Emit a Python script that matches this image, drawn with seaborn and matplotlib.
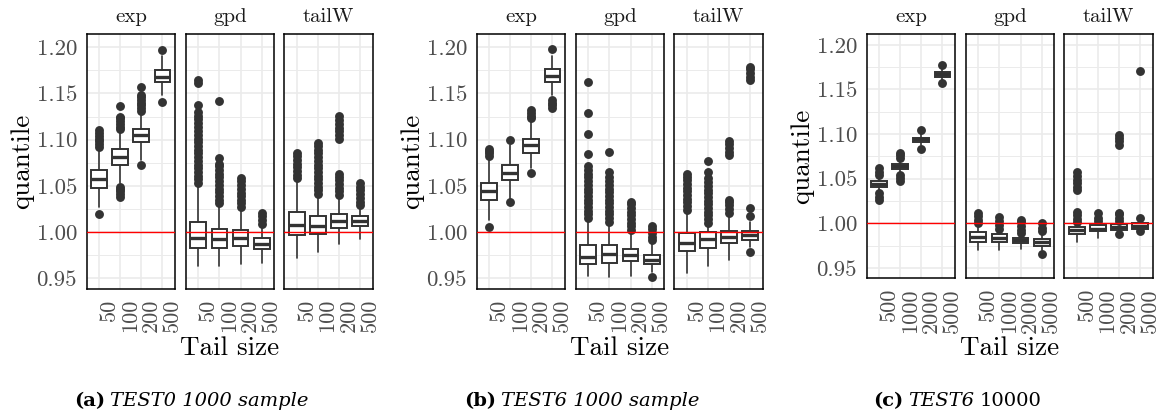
import matplotlib
matplotlib.use("Agg")
import matplotlib.pyplot as plt
import pandas as pd
import seaborn as sns

# ---------------------------------------------------------------- data
facets = ["exp", "gpd", "tailW"]
tail_sizes_small = ["50", "100", "200", "500"]
tail_sizes_large = ["500", "1000", "2000", "5000"]
y_ticks = [0.95, 1.00, 1.05, 1.10, 1.15, 1.20]
y_minor = [0.975, 1.025, 1.075, 1.125, 1.175]
reference_level = 1.0

# box summaries per tail size: (lower whisker, Q1, median, Q3, upper whisker)
test0_boxes = {
    "exp":   [(1.027, 1.048, 1.057, 1.067, 1.090), (1.053, 1.072, 1.081, 1.090, 1.110),
              (1.078, 1.097, 1.105, 1.112, 1.130), (1.148, 1.162, 1.168, 1.175, 1.190)],
    "gpd":   [(0.963, 0.983, 0.994, 1.011, 1.052), (0.963, 0.983, 0.992, 1.003, 1.029),
              (0.965, 0.985, 0.993, 1.002, 1.027), (0.966, 0.982, 0.987, 0.994, 1.008)],
    "tailW": [(0.972, 0.997, 1.008, 1.022, 1.056), (0.978, 0.998, 1.006, 1.017, 1.040),
              (0.987, 1.004, 1.012, 1.020, 1.040), (0.992, 1.006, 1.012, 1.017, 1.029)],
}
test0_outliers = {
    "exp":   [[1.019, 1.092, 1.095, 1.098, 1.101, 1.104, 1.107, 1.110],
              [1.038, 1.041, 1.044, 1.047, 1.049, 1.111, 1.114, 1.117, 1.120, 1.123, 1.125, 1.136],
              [1.073, 1.131, 1.134, 1.137, 1.140, 1.143, 1.146, 1.148, 1.157],
              [1.141, 1.197]],
    "gpd":   [[1.053, 1.057, 1.061, 1.065, 1.069, 1.073, 1.077, 1.081, 1.085, 1.089, 1.093,
               1.097, 1.101, 1.105, 1.109, 1.114, 1.118, 1.122, 1.126, 1.130, 1.138, 1.161, 1.164],
              [1.031, 1.035, 1.039, 1.043, 1.047, 1.051, 1.055, 1.059, 1.063, 1.067, 1.071,
               1.074, 1.080, 1.142],
              [1.027, 1.031, 1.035, 1.039, 1.042, 1.047, 1.051, 1.055, 1.058],
              [1.009, 1.013, 1.017, 1.021]],
    "tailW": [[1.058, 1.062, 1.066, 1.070, 1.074, 1.078, 1.082, 1.085],
              [1.041, 1.045, 1.049, 1.053, 1.057, 1.061, 1.065, 1.069, 1.073, 1.077, 1.081,
               1.085, 1.089, 1.093, 1.096],
              [1.040, 1.044, 1.048, 1.052, 1.056, 1.060, 1.063, 1.101, 1.105, 1.109, 1.113,
               1.117, 1.121, 1.126],
              [1.029, 1.033, 1.037, 1.041, 1.045, 1.049, 1.053]],
}

test6_boxes = {
    "exp":   [(1.013, 1.035, 1.044, 1.053, 1.081), (1.036, 1.056, 1.064, 1.072, 1.094),
              (1.069, 1.086, 1.094, 1.101, 1.121), (1.148, 1.162, 1.169, 1.176, 1.190)],
    "gpd":   [(0.952, 0.965, 0.973, 0.986, 1.015), (0.951, 0.967, 0.976, 0.986, 1.011),
              (0.952, 0.969, 0.975, 0.982, 1.002), (0.957, 0.965, 0.970, 0.975, 0.988)],
    "tailW": [(0.956, 0.979, 0.988, 0.999, 1.024), (0.963, 0.983, 0.992, 1.000, 1.009),
              (0.970, 0.988, 0.995, 1.001, 1.020), (0.984, 0.991, 0.997, 1.001, 1.011)],
}
test6_outliers = {
    "exp":   [[1.005, 1.082, 1.085, 1.088, 1.090],
              [1.032, 1.100],
              [1.064, 1.123, 1.126, 1.129, 1.132],
              [1.134, 1.137, 1.140, 1.143, 1.198]],
    "gpd":   [[1.015, 1.019, 1.023, 1.027, 1.031, 1.035, 1.039, 1.043, 1.047, 1.051, 1.055,
               1.059, 1.063, 1.067, 1.071, 1.084, 1.106, 1.129, 1.162],
              [1.011, 1.015, 1.019, 1.023, 1.027, 1.031, 1.035, 1.039, 1.043, 1.047, 1.051,
               1.055, 1.060, 1.065, 1.087],
              [1.002, 1.006, 1.010, 1.014, 1.018, 1.022, 1.026, 1.030, 1.033],
              [0.951, 0.991, 0.995, 0.999, 1.003, 1.006]],
    "tailW": [[1.024, 1.028, 1.032, 1.036, 1.040, 1.044, 1.048, 1.052, 1.056, 1.060, 1.063],
              [1.010, 1.014, 1.018, 1.022, 1.026, 1.030, 1.034, 1.038, 1.042, 1.046, 1.050,
               1.054, 1.058, 1.065, 1.077],
              [1.021, 1.025, 1.029, 1.032, 1.035, 1.083, 1.087, 1.091, 1.095, 1.098],
              [0.978, 1.017, 1.026, 1.164, 1.168, 1.172, 1.176, 1.179]],
}

test6_10k_boxes = {
    "exp":   [(1.036, 1.041, 1.044, 1.047, 1.052), (1.056, 1.061, 1.064, 1.067, 1.071),
              (1.088, 1.091, 1.094, 1.096, 1.100), (1.161, 1.164, 1.167, 1.170, 1.174)],
    "gpd":   [(0.970, 0.979, 0.985, 0.990, 0.998), (0.970, 0.979, 0.984, 0.988, 0.994),
              (0.971, 0.978, 0.981, 0.984, 0.989), (0.970, 0.975, 0.979, 0.982, 0.989)],
    "tailW": [(0.979, 0.988, 0.992, 0.996, 1.000), (0.984, 0.991, 0.994, 0.998, 1.000),
              (0.991, 0.993, 0.996, 0.999, 1.001), (0.993, 0.994, 0.997, 1.000, 1.002)],
}
test6_10k_outliers = {
    "exp":   [[1.026, 1.030, 1.034, 1.054, 1.058, 1.062],
              [1.047, 1.051, 1.054, 1.073, 1.076, 1.079],
              [1.083, 1.105],
              [1.157, 1.178]],
    "gpd":   [[1.000, 1.004, 1.008, 1.012],
              [0.994, 0.998, 1.002, 1.007],
              [0.989, 0.993, 0.997, 1.001, 1.004],
              [0.966, 0.991, 0.995, 1.000]],
    "tailW": [[1.001, 1.005, 1.009, 1.013, 1.037, 1.041, 1.045, 1.049, 1.053, 1.057],
              [1.002, 1.006, 1.011],
              [0.988, 1.002, 1.006, 1.010, 1.012, 1.088, 1.092, 1.096, 1.099],
              [0.991, 1.006, 1.171]],
}

# ---------------------------------------------------------------- style
sns.set_theme(style="whitegrid")
plt.rcParams["font.family"] = ["cmr10", "DejaVu Serif"]
plt.rcParams["axes.formatter.use_mathtext"] = True

DARK = "#333333"
GRID = "#EBEBEB"
TICK_GRAY = "#4D4D4D"
W, H = 1163, 416

fig = plt.figure(figsize=(W / 100, H / 100), dpi=100)
fig.patch.set_facecolor("white")


def px_axes(left, top, right, bottom):
    return fig.add_axes([left / W, 1 - bottom / H, (right - left) / W, (bottom - top) / H])


def draw_facet(ax, labels, boxes, outliers, ylim, show_y):
    pts = pd.DataFrame({
        "tail": [labels[i] for i, vals in enumerate(outliers) for _ in vals],
        "quantile": [v for vals in outliers for v in vals],
    })
    sns.stripplot(data=pts, x="tail", y="quantile", order=labels, jitter=False,
                  color=DARK, size=6.4, linewidth=0, ax=ax, zorder=3)
    stats = [dict(whislo=b[0], q1=b[1], med=b[2], q3=b[3], whishi=b[4]) for b in boxes]
    ax.bxp(stats, positions=range(len(labels)), widths=0.75, patch_artist=True,
           showcaps=False, showfliers=False, manage_ticks=False, zorder=2,
           boxprops=dict(facecolor="white", edgecolor=DARK, linewidth=1.4),
           medianprops=dict(color=DARK, linewidth=2.4, solid_capstyle="butt"),
           whiskerprops=dict(color=DARK, linewidth=1.2))
    ax.axhline(reference_level, color="red", lw=1.0, zorder=4)

    ax.set_xlim(-0.6, len(labels) - 0.4)
    ax.set_ylim(*ylim)
    ax.set_xticks(range(len(labels)))
    ax.set_xticklabels(labels, rotation=90, ha="left", fontsize=16, color=TICK_GRAY)
    ax.set_yticks(y_ticks)
    ax.set_yticks(y_minor, minor=True)
    if show_y:
        ax.set_yticklabels([f"{t:.2f}" for t in y_ticks], fontsize=16.5, color=TICK_GRAY)
    else:
        ax.tick_params(labelleft=False)
    ax.tick_params(which="both", length=0)
    ax.tick_params(axis="y", pad=7)
    ax.tick_params(axis="x", pad=7)
    ax.set_axisbelow(True)
    ax.grid(which="major", axis="both", color=GRID, lw=1.2)
    ax.grid(which="minor", axis="y", color=GRID, lw=0.7)
    ax.set_xlabel("")
    ax.set_ylabel("")
    ax.set_facecolor("white")
    for sp in ax.spines.values():
        sp.set_visible(True)
        sp.set_color("black")
        sp.set_linewidth(1.1)


def draw_group(columns, top, bottom, ylim, labels, boxes, outliers, ylabel_x, xlabel_xy):
    for k, ((left, right), facet) in enumerate(zip(columns, facets)):
        ax = px_axes(left, top, right, bottom)
        draw_facet(ax, labels, boxes[facet], outliers[facet], ylim, show_y=(k == 0))
        fig.text((left + right) / 2 / W, 1 - 17 / H, facet, ha="center", va="center",
                 fontsize=15, color="#1A1A1A")
    fig.text(ylabel_x / W, 1 - (top + bottom) / 2 / H, "quantile", rotation=90,
             ha="center", va="center", fontsize=19.5, color="black")
    fig.text(xlabel_xy[0] / W, 1 - xlabel_xy[1] / H, "Tail size", ha="center", va="center",
             fontsize=19.5, color="black")


draw_group([(86.7, 175.0), (185.7, 274.3), (284.3, 372.7)], 34, 289.3, (0.938, 1.2143),
           tail_sizes_small, test0_boxes, test0_outliers, 22, (230, 348))
draw_group([(476.7, 565.0), (575.7, 664.3), (674.3, 762.7)], 34, 289.3, (0.938, 1.2143),
           tail_sizes_small, test6_boxes, test6_outliers, 412, (620, 348))
draw_group([(866.7, 955.0), (965.7, 1054.3), (1064.3, 1152.7)], 34, 278.3, (0.9383, 1.2122),
           tail_sizes_large, test6_10k_boxes, test6_10k_outliers, 802, (1010, 348))

# ---------------------------------------------------------------- sub-captions
renderer = fig.canvas.get_renderer()


def caption(cx, cy, parts, size=14, gap=5):
    texts = []
    for s, style, weight in parts:
        t = fig.text(0, 1 - cy / H, s, ha="left", va="center", fontsize=size,
                     family="DejaVu Serif", style=style, weight=weight, color="black")
        texts.append(t)
    widths = [t.get_window_extent(renderer).width for t in texts]
    total = sum(widths) + gap * (len(texts) - 1)
    x = cx - total / 2
    for t, w in zip(texts, widths):
        t.set_x(x / W)
        x += w + gap


caption(191, 401, [("(a)", "normal", "bold"), ("TEST0 1000 sample", "italic", "normal")])
caption(582, 401, [("(b)", "normal", "bold"), ("TEST6 1000 sample", "italic", "normal")])
caption(957, 401, [("(c)", "normal", "bold"), ("TEST6", "italic", "normal"),
                   ("10000", "normal", "normal")])

fig.savefig("out.png", dpi=100, facecolor="white")
